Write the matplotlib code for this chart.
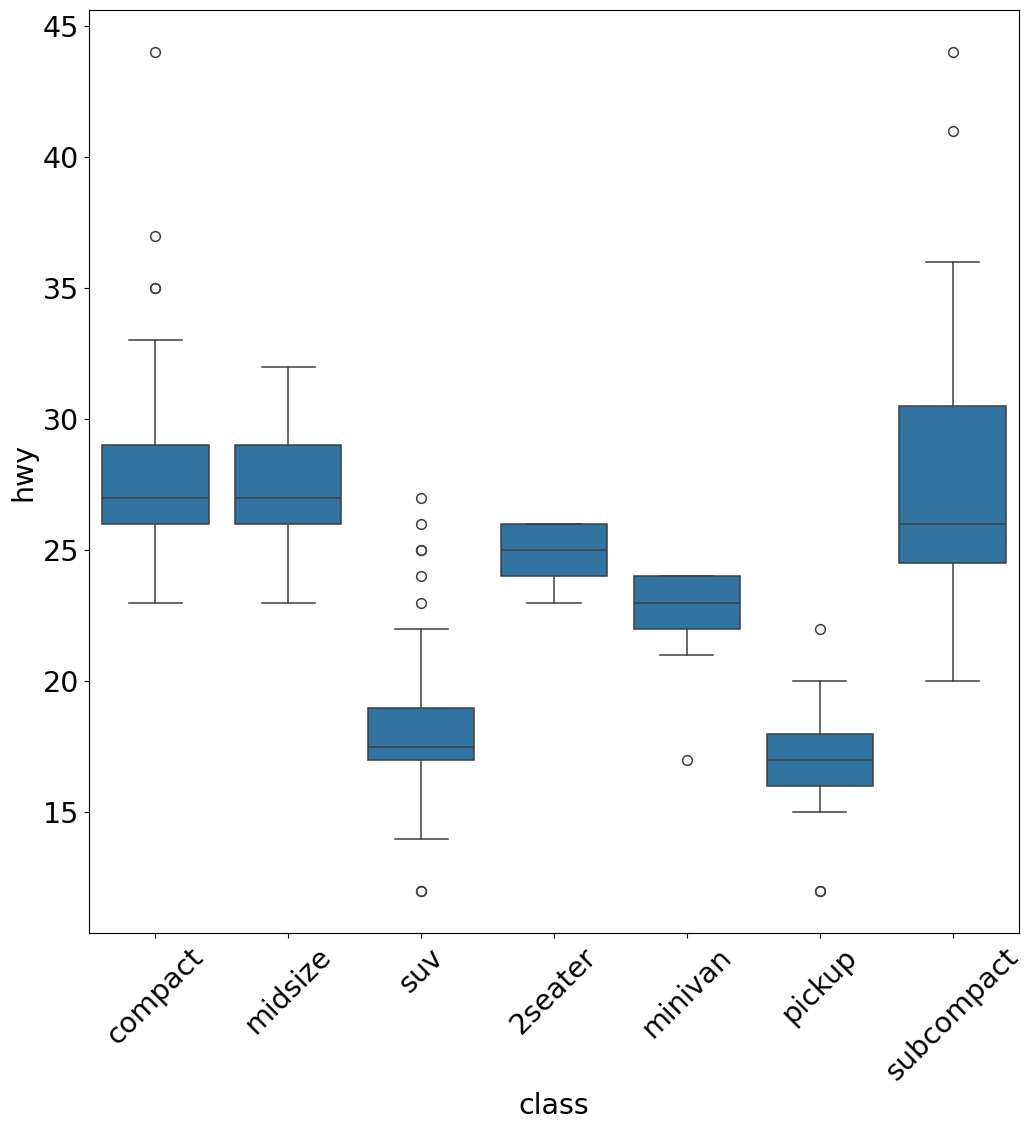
import matplotlib
matplotlib.use("Agg")
import matplotlib.pyplot as plt

classes = ["compact", "midsize", "suv", "2seater", "minivan", "pickup", "subcompact"]
q1 = [26, 26, 17, 24, 22, 16, 24.5]
med = [27, 27, 17.5, 25, 23, 17, 26]
q3 = [29, 29, 19, 26, 24, 18, 30.5]
whislo = [23, 23, 14, 23, 21, 15, 20]
whishi = [33, 32, 22, 26, 24, 20, 36]
fliers = [[35, 35, 37, 44], [], [12, 12, 23, 24, 25, 25, 26, 27], [], [17], [12, 12, 22], [41, 44]]

stats = []
for i, c in enumerate(classes):
    stats.append(dict(label=c, q1=q1[i], med=med[i], q3=q3[i],
                      whislo=whislo[i], whishi=whishi[i], fliers=fliers[i]))

fig = plt.figure(figsize=(10.32, 11.27), dpi=100)
ax = fig.add_axes([0.0862, 0.1721, 0.9012, 0.819])
lc = "#3f3f3f"
lw = 1.1
ax.bxp(stats, positions=range(len(classes)), widths=0.8, patch_artist=True,
       boxprops=dict(facecolor="#3274a1", edgecolor=lc, linewidth=lw),
       medianprops=dict(color=lc, linewidth=lw),
       whiskerprops=dict(color=lc, linewidth=lw),
       capprops=dict(color=lc, linewidth=lw),
       flierprops=dict(marker="o", markerfacecolor="none", markeredgecolor=lc,
                       markersize=7, markeredgewidth=lw),
       capwidths=0.4)
ax.set_xlim(-0.5, len(classes) - 0.5)
ax.set_ylim(10.4, 45.6)
ax.set_xticks(range(len(classes)))
ax.set_xticklabels(classes, rotation=45)
ax.tick_params(labelsize=20.5)
ax.set_xlabel("class", fontsize=20.5)
ax.set_ylabel("hwy", fontsize=20.5)
fig.savefig("out.png", dpi=100)
